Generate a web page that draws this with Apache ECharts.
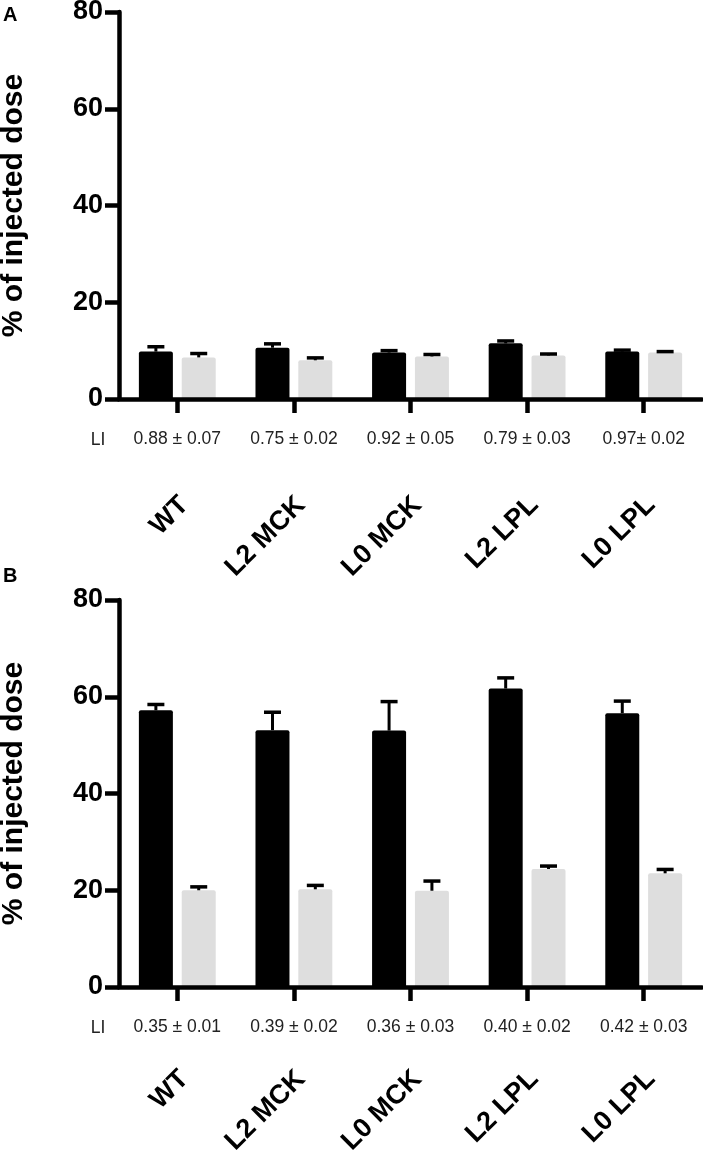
<!DOCTYPE html>
<html>
<head>
<meta charset="utf-8">
<script src="https://cdn.jsdelivr.net/npm/echarts@6/dist/echarts.min.js"></script>
<style>
  html, body { margin: 0; padding: 0; background: #fff; }
  #chart { width: 703px; height: 1150px; }
</style>
</head>
<body>
<div id="chart"></div>
<script>
// ---------------- data ----------------
const categories = ['WT', 'L2 MCK', 'L0 MCK', 'L2 LPL', 'L0 LPL'];
const yTicks = [0, 20, 40, 60, 80];

const liA = ['0.88 ± 0.07', '0.75 ± 0.02', '0.92 ± 0.05', '0.79 ± 0.03', '0.97± 0.02'];
const liB = ['0.35 ± 0.01', '0.39 ± 0.02', '0.36 ± 0.03', '0.40 ± 0.02', '0.42 ± 0.03'];

const blackA    = [9.8, 10.6, 9.6, 11.5, 9.8];
const blackAErr = [1.0, 0.8, 0.4, 0.5, 0.3];
const grayA     = [8.6, 8.0, 8.8, 9.0, 9.6];
const grayAErr  = [0.8, 0.5, 0.4, 0.3, 0.2];

const blackB    = [57.2, 53.1, 53.0, 61.7, 56.6];
const blackBErr = [1.2, 3.7, 6.0, 2.2, 2.5];
const grayB     = [20.0, 20.2, 19.9, 24.4, 23.5];
const grayBErr  = [0.7, 0.8, 2.0, 0.6, 0.8];

const yName = '% of injected dose';
const panelLabels = ['A', 'B'];
const rowLabel = 'LI';

// ---------------- style ----------------
const FONT = '"Liberation Sans", Arial, Helvetica, sans-serif';
const BAR_W = 34;
const GAP = 0.26;
const CAP = 17;
const AXIS_W = 4.5;
const GRAY = '#dedede';

function errData(vals, errs, side) {
  return vals.map((v, i) => [i, v, errs[i], side]);
}

function errRender(params, api) {
  const cat = api.value(0), v = api.value(1), e = api.value(2), side = api.value(3);
  const base = api.coord([cat, v]);
  const top = api.coord([cat, v + e]);
  const off = side * (BAR_W / 2 + BAR_W * GAP / 2);
  const x = base[0] + off;
  return {
    type: 'group',
    children: [
      { type: 'line', shape: { x1: x, y1: base[1], x2: x, y2: top[1] }, style: { stroke: '#000', lineWidth: 3 } },
      { type: 'line', shape: { x1: x - CAP / 2, y1: top[1], x2: x + CAP / 2, y2: top[1] }, style: { stroke: '#000', lineWidth: 3.5 } }
    ]
  };
}

const grids = [
  { left: 119, top: 12, width: 583, height: 387, containLabel: false, outerBoundsMode: 'none' },
  { left: 119, top: 600, width: 583, height: 387, containLabel: false, outerBoundsMode: 'none' }
];

function xAxesFor(g, li, nameMargin) {
  return [
    {
      type: 'category', gridIndex: g, data: li, position: 'bottom', offset: 0, z: 10,
      axisLine: { show: true, lineStyle: { color: '#000', width: AXIS_W } },
      axisTick: { show: true, alignWithLabel: true, length: 14, lineStyle: { color: '#000', width: AXIS_W } },
      axisLabel: { interval: 0, margin: 31, fontFamily: FONT, fontSize: 17.5, color: '#222' },
      splitLine: { show: false }
    },
    {
      type: 'category', gridIndex: g, data: categories, position: 'bottom', offset: 0,
      axisLine: { show: false }, axisTick: { show: false },
      axisLabel: { interval: 0, rotate: 45, margin: nameMargin, padding: [40, -10, 0, 0],
        fontFamily: FONT, fontSize: 27, fontWeight: 'bold', color: '#000' },
      splitLine: { show: false }
    }
  ];
}

function yAxisFor(g) {
  return {
    type: 'value', gridIndex: g, min: yTicks[0], max: yTicks[yTicks.length - 1], interval: 20,
    axisLine: { show: true, lineStyle: { color: '#000', width: AXIS_W } },
    axisTick: { show: true, length: 14, lineStyle: { color: '#000', width: AXIS_W } },
    axisLabel: { margin: 16, fontFamily: FONT, fontSize: 27, fontWeight: 'bold', color: '#000' },
    splitLine: { show: false },
    name: yName, nameLocation: 'middle', nameGap: 90,
    nameTextStyle: { fontFamily: FONT, fontSize: 30, fontWeight: 'bold', color: '#000' }
  };
}

function barsFor(g, xi, black, blackErr, gray, grayErr) {
  return [
    { type: 'bar', xAxisIndex: xi, yAxisIndex: g, data: black, barWidth: BAR_W, barGap: (GAP * 100) + '%',
      itemStyle: { color: '#000', borderRadius: [2, 2, 0, 0] }, silent: true },
    { type: 'bar', xAxisIndex: xi, yAxisIndex: g, data: gray, barWidth: BAR_W, barGap: (GAP * 100) + '%',
      itemStyle: { color: GRAY, borderRadius: [2, 2, 0, 0] }, silent: true },
    { type: 'custom', xAxisIndex: xi, yAxisIndex: g, renderItem: errRender, z: 5, silent: true,
      encode: { x: 0, y: 1 },
      data: errData(black, blackErr, -1).concat(errData(gray, grayErr, 1)) }
  ];
}

const option = {
  animation: false,
  backgroundColor: '#fff',
  grid: grids,
  xAxis: xAxesFor(0, liA, 109).concat(xAxesFor(1, liB, 95)),
  yAxis: [yAxisFor(0), yAxisFor(1)],
  series: barsFor(0, 0, blackA, blackAErr, grayA, grayAErr).concat(barsFor(1, 2, blackB, blackBErr, grayB, grayBErr)),
  graphic: [
    { type: 'text', left: 3, top: 5, style: { text: panelLabels[0], font: 'bold 20px ' + FONT, fill: '#000' } },
    { type: 'text', left: 3, top: 566, style: { text: panelLabels[1], font: 'bold 20px ' + FONT, fill: '#000' } },
    { type: 'text', x: 98, y: 440, style: { text: rowLabel, font: '17.5px ' + FONT, fill: '#222', align: 'center', verticalAlign: 'middle' } },
    { type: 'text', x: 98, y: 1028, style: { text: rowLabel, font: '17.5px ' + FONT, fill: '#222', align: 'center', verticalAlign: 'middle' } }
  ]
};

const chart = echarts.init(document.getElementById('chart'), null, { renderer: 'canvas' });
chart.setOption(option);
</script>
</body>
</html>
